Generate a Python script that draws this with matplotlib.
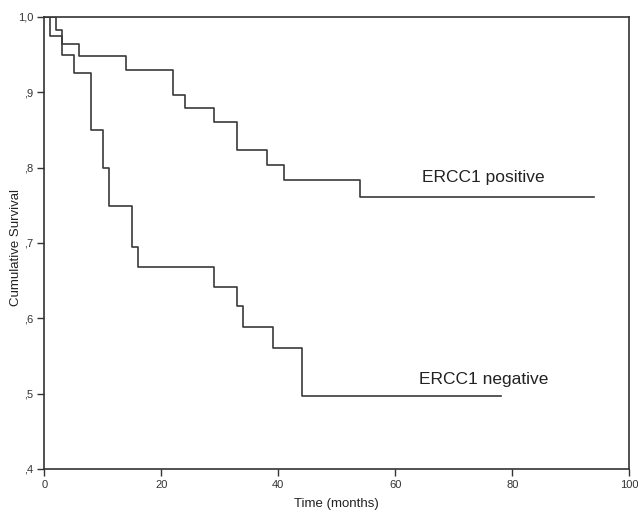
import numpy as np
import matplotlib
matplotlib.use("Agg")
import matplotlib.pyplot as plt

plt.rcParams['font.family'] = ['Liberation Sans', 'DejaVu Sans']

# Kaplan-Meier steps
pos_months = [0, 2, 3, 6, 14, 22, 24, 29, 33, 38, 41, 54, 94]
pos_surv = [1.0, 0.983, 0.964, 0.948, 0.930, 0.896, 0.879, 0.860, 0.823, 0.804, 0.783, 0.761, 0.761]

neg_months = [0, 1, 3, 5, 8, 10, 11, 15, 16, 29, 33, 34, 39, 44, 78]
neg_surv = [1.0, 0.975, 0.949, 0.925, 0.850, 0.800, 0.749, 0.695, 0.668, 0.641, 0.616, 0.588, 0.560, 0.497, 0.497]

x_ticks = [0, 20, 40, 60, 80, 100]
y_ticks = [0.4, 0.5, 0.6, 0.7, 0.8, 0.9, 1.0]
y_labels = [",4", ",5", ",6", ",7", ",8", ",9", "1,0"]

fig = plt.figure(figsize=(6.38, 5.12), dpi=100)
ax = fig.add_axes([0.0695, 0.084, 0.917, 0.883])

line_col = "#3a3a3a"
ax.plot(pos_months, pos_surv, drawstyle="steps-post", color=line_col, lw=1.2)
ax.plot(neg_months, neg_surv, drawstyle="steps-post", color=line_col, lw=1.2)

ax.text(64.5, 0.787, "ERCC1 positive", fontsize=12.5, va="center", ha="left", color="#222222")
ax.text(64.1, 0.519, "ERCC1 negative", fontsize=12.5, va="center", ha="left", color="#222222")

ax.set_xlim(0, 100)
ax.set_ylim(0.4, 1.0)
ax.set_xticks(x_ticks)
ax.set_yticks(y_ticks)
ax.set_yticklabels(y_labels)
ax.tick_params(labelsize=8, length=5, width=1, colors="#333333", pad=3)

for s in ax.spines.values():
    s.set_color("#333333")
    s.set_linewidth(1.2)

ax.set_xlabel("Time (months)", fontsize=9.5, labelpad=6, color="#222222")
ax.set_ylabel("Cumulative Survival", fontsize=9.5, color="#222222")
ax.yaxis.set_label_coords(-0.039, 0.49)

fig.savefig("out.png", dpi=100)
